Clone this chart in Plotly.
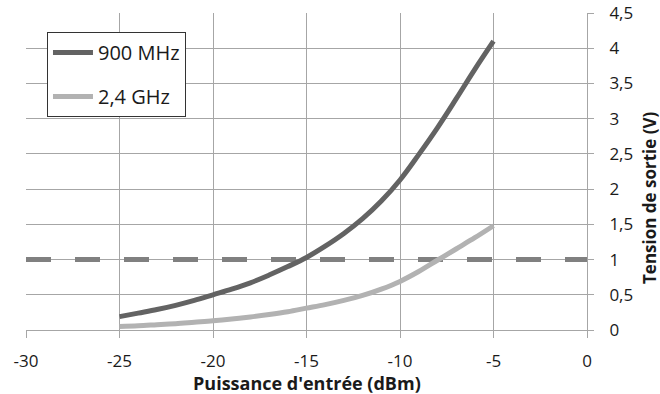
import plotly.graph_objects as go

x_dbm = [-25, -24, -23, -22, -21, -20, -19, -18, -17, -16, -15, -14, -13, -12, -11, -10, -9, -8, -7, -6, -5]
v_900 = [0.19, 0.24, 0.29, 0.35, 0.42, 0.50, 0.58, 0.67, 0.78, 0.90, 1.03, 1.19, 1.37, 1.58, 1.83, 2.13, 2.49, 2.87, 3.28, 3.70, 4.10]
v_24 = [0.05, 0.06, 0.075, 0.09, 0.11, 0.13, 0.155, 0.185, 0.22, 0.26, 0.31, 0.36, 0.42, 0.49, 0.58, 0.69, 0.83, 0.99, 1.15, 1.31, 1.48]
seuil = 1.0
x_ticks = [-30, -25, -20, -15, -10, -5, 0]
x_labels = ["-30", "-25", "-20", "-15", "-10", "-5", "0"]
y_ticks = [0, 0.5, 1, 1.5, 2, 2.5, 3, 3.5, 4, 4.5]
y_labels = ["0", "0,5", "1", "1,5", "2", "2,5", "3", "3,5", "4", "4,5"]

FONT = "Open Sans"
grid = "#a6a6a6"

fig = go.Figure()
fig.add_trace(go.Scatter(x=x_dbm, y=v_900, mode="lines", name="900 MHz",
                         line=dict(color="#636363", width=5, shape="spline"),
                         legendgroup="a"))
fig.add_trace(go.Scatter(x=x_dbm, y=v_24, mode="lines", name="2,4 GHz",
                         line=dict(color="#b2b2b2", width=5, shape="spline"),
                         legendgroup="b"))
fig.add_shape(type="line", xref="x", yref="y", x0=-30, x1=0, y0=seuil, y1=seuil,
              line=dict(color="#808080", width=5, dash="25px,24px"), layer="between")

fig.update_layout(
    width=660, height=394,
    margin=dict(l=26, r=73, t=13, b=64, autoexpand=False),
    paper_bgcolor="white", plot_bgcolor="white",
    font=dict(family=FONT, size=17, color="#1a1a1a"),
    showlegend=True,
    legend=dict(x=0.0374, y=0.94, xanchor="left", yanchor="top",
                bordercolor="#333333", borderwidth=1, bgcolor="white",
                font=dict(size=20), tracegroupgap=15, traceorder="grouped",
                itemwidth=40),
    xaxis=dict(range=[-30, 0], tickvals=x_ticks, ticktext=x_labels, showgrid=True,
               gridcolor=grid, gridwidth=1, zeroline=False, showline=True,
               linecolor=grid, ticks="outside", ticklen=7, tickcolor=grid,
               automargin=False, ticklabelstandoff=9),
    yaxis=dict(range=[0, 4.5], side="right", tickvals=y_ticks, ticktext=y_labels,
               showgrid=True, gridcolor=grid, gridwidth=1, zeroline=False,
               showline=True, linecolor=grid, ticks="outside", ticklen=6,
               tickcolor=grid, automargin=False, ticklabelstandoff=12),
)
fig.add_annotation(text="<b>Puissance d'entrée (dBm)</b>", xref="paper", yref="paper",
                   x=0.5, y=(330 - 383) / 317, showarrow=False, font=dict(size=18),
                   xanchor="center", yanchor="middle")
fig.add_annotation(text="<b>Tension de sortie (V)</b>", xref="paper", yref="paper",
                   x=(650 - 26) / 561, y=(330 - 198) / 317, textangle=-90,
                   showarrow=False, font=dict(size=17), xanchor="center",
                   yanchor="middle")

fig.write_html("out.html", config={"displayModeBar": False},
               post_script="document.body.style.margin='0';document.body.style.overflow='hidden';")
